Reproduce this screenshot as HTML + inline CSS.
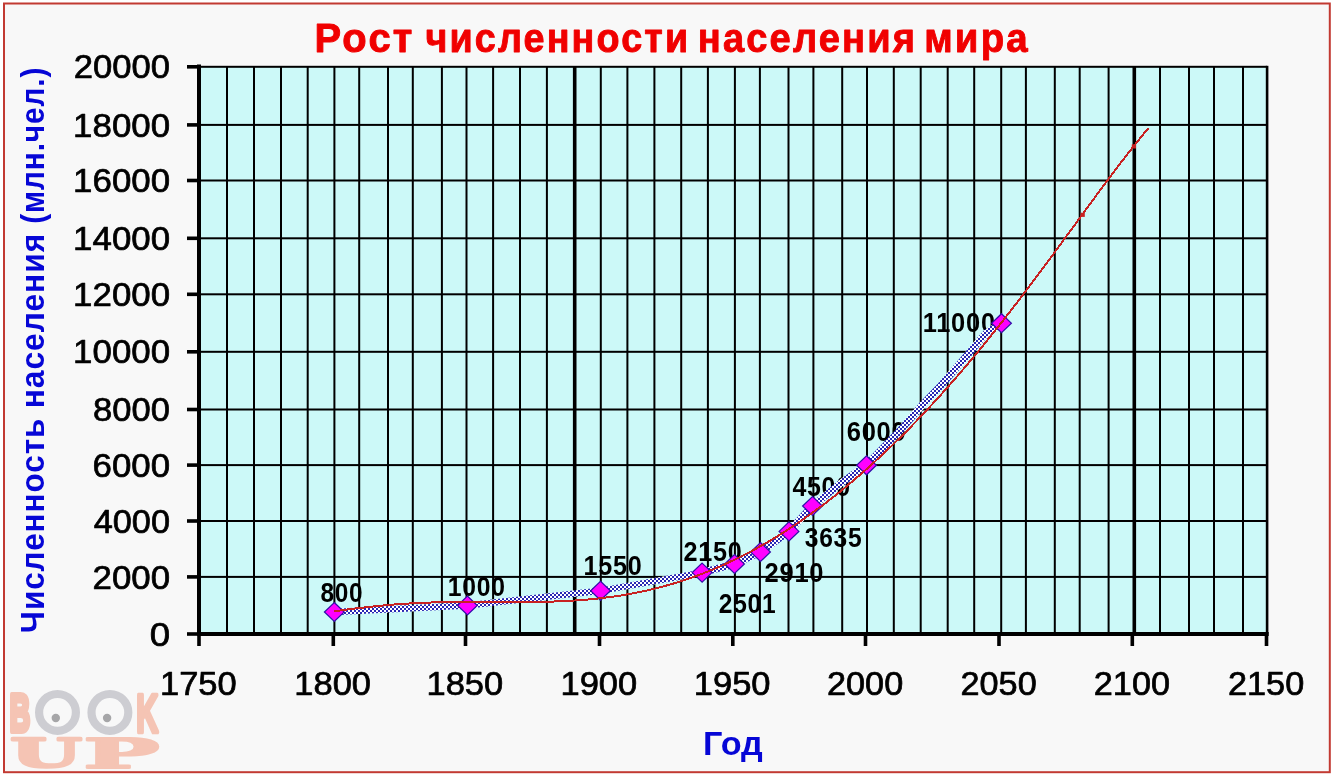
<!DOCTYPE html>
<html><head><meta charset="utf-8"><title>Рост численности населения мира</title>
<style>
html,body{margin:0;padding:0;background:#fff;width:1335px;height:779px;overflow:hidden}
svg{display:block}
text{font-family:'Liberation Sans', Arial, sans-serif;}
</style></head><body>
<svg width="1335" height="779" viewBox="0 0 1335 779">
<defs>
<pattern id="chk" width="4" height="4" patternUnits="userSpaceOnUse">
<rect width="4" height="4" fill="#ffffff"/><rect width="2" height="2" fill="#2828b4"/><rect x="2" y="2" width="2" height="2" fill="#2828b4"/>
</pattern>
</defs>
<rect x="4" y="3.5" width="1325.8" height="768.7" fill="#f8f8f8" stroke="#c23a32" stroke-width="2"/>
<rect x="199" y="66.8" width="1068" height="567.2" fill="#ccf9f8"/>
<g fill="#000">
<rect x="226.00" y="66.8" width="2" height="567.2"/>
<rect x="253.00" y="66.8" width="2" height="567.2"/>
<rect x="280.00" y="66.8" width="2" height="567.2"/>
<rect x="306.70" y="66.8" width="2" height="567.2"/>
<rect x="333.40" y="66.8" width="2" height="567.2"/>
<rect x="358.20" y="66.8" width="2" height="567.2"/>
<rect x="387.00" y="66.8" width="2" height="567.2"/>
<rect x="411.80" y="66.8" width="2" height="567.2"/>
<rect x="440.90" y="66.8" width="2" height="567.2"/>
<rect x="465.50" y="66.8" width="2" height="567.2"/>
<rect x="492.10" y="66.8" width="2" height="567.2"/>
<rect x="519.00" y="66.8" width="2" height="567.2"/>
<rect x="545.90" y="66.8" width="2" height="567.2"/>
<rect x="572.90" y="66.8" width="3.6" height="567.2"/>
<rect x="599.80" y="66.8" width="2" height="567.2"/>
<rect x="626.40" y="66.8" width="2" height="567.2"/>
<rect x="653.40" y="66.8" width="2" height="567.2"/>
<rect x="680.20" y="66.8" width="2" height="567.2"/>
<rect x="706.90" y="66.8" width="2" height="567.2"/>
<rect x="733.90" y="66.8" width="2" height="567.2"/>
<rect x="758.90" y="66.8" width="2" height="567.2"/>
<rect x="787.50" y="66.8" width="2" height="567.2"/>
<rect x="812.40" y="66.8" width="2" height="567.2"/>
<rect x="841.20" y="66.8" width="2" height="567.2"/>
<rect x="866.00" y="66.8" width="2" height="567.2"/>
<rect x="892.80" y="66.8" width="2" height="567.2"/>
<rect x="919.70" y="66.8" width="2" height="567.2"/>
<rect x="946.70" y="66.8" width="2" height="567.2"/>
<rect x="973.20" y="66.8" width="2" height="567.2"/>
<rect x="1000.20" y="66.8" width="2" height="567.2"/>
<rect x="1024.90" y="66.8" width="2" height="567.2"/>
<rect x="1053.80" y="66.8" width="2" height="567.2"/>
<rect x="1078.70" y="66.8" width="2" height="567.2"/>
<rect x="1107.60" y="66.8" width="2" height="567.2"/>
<rect x="1132.50" y="66.8" width="3.6" height="567.2"/>
<rect x="1159.00" y="66.8" width="2" height="567.2"/>
<rect x="1188.00" y="66.8" width="2" height="567.2"/>
<rect x="1213.00" y="66.8" width="2" height="567.2"/>
<rect x="1242.00" y="66.8" width="2" height="567.2"/>
<rect x="199" y="65.80" width="1068" height="2"/>
<rect x="199" y="123.90" width="1068" height="2"/>
<rect x="199" y="179.50" width="1068" height="2"/>
<rect x="199" y="237.30" width="1068" height="2"/>
<rect x="199" y="293.30" width="1068" height="2"/>
<rect x="199" y="350.80" width="1068" height="2"/>
<rect x="199" y="408.50" width="1068" height="2"/>
<rect x="199" y="464.10" width="1068" height="2"/>
<rect x="199" y="520.00" width="1068" height="2"/>
<rect x="199" y="575.90" width="1068" height="2"/>
<rect x="197" y="64.5" width="4" height="571.5"/>
<rect x="197" y="632" width="1071.7" height="4"/>
<rect x="1265.8" y="65.8" width="2.6" height="568.2"/>
<rect x="187" y="65.00" width="11" height="3.6"/>
<rect x="187" y="123.10" width="11" height="3.6"/>
<rect x="187" y="178.70" width="11" height="3.6"/>
<rect x="187" y="236.50" width="11" height="3.6"/>
<rect x="187" y="292.50" width="11" height="3.6"/>
<rect x="187" y="350.00" width="11" height="3.6"/>
<rect x="187" y="407.70" width="11" height="3.6"/>
<rect x="187" y="463.30" width="11" height="3.6"/>
<rect x="187" y="519.20" width="11" height="3.6"/>
<rect x="187" y="575.10" width="11" height="3.6"/>
<rect x="187" y="632.20" width="11" height="3.6"/>
<rect x="197.20" y="634" width="3.6" height="12"/>
<rect x="331.50" y="634" width="3.6" height="12"/>
<rect x="463.70" y="634" width="3.6" height="12"/>
<rect x="597.70" y="634" width="3.6" height="12"/>
<rect x="731.00" y="634" width="3.6" height="12"/>
<rect x="863.70" y="634" width="3.6" height="12"/>
<rect x="997.20" y="634" width="3.6" height="12"/>
<rect x="1130.50" y="634" width="3.6" height="12"/>
<rect x="1264.70" y="634" width="3.6" height="12"/>
</g>
<g>
<text transform="translate(73.68 78.40) scale(1.0347 1.000)" font-size="33.50" font-weight="normal" fill="#000" stroke="#000" stroke-width="0.7" stroke-linejoin="round">20000</text>
<text transform="translate(73.12 136.50) scale(1.0407 1.000)" font-size="33.50" font-weight="normal" fill="#000" stroke="#000" stroke-width="0.7" stroke-linejoin="round">18000</text>
<text transform="translate(73.12 192.10) scale(1.0407 1.000)" font-size="33.50" font-weight="normal" fill="#000" stroke="#000" stroke-width="0.7" stroke-linejoin="round">16000</text>
<text transform="translate(73.12 249.90) scale(1.0407 1.000)" font-size="33.50" font-weight="normal" fill="#000" stroke="#000" stroke-width="0.7" stroke-linejoin="round">14000</text>
<text transform="translate(73.12 305.90) scale(1.0407 1.000)" font-size="33.50" font-weight="normal" fill="#000" stroke="#000" stroke-width="0.7" stroke-linejoin="round">12000</text>
<text transform="translate(73.12 363.40) scale(1.0407 1.000)" font-size="33.50" font-weight="normal" fill="#000" stroke="#000" stroke-width="0.7" stroke-linejoin="round">10000</text>
<text transform="translate(93.12 421.10) scale(1.0324 1.000)" font-size="33.50" font-weight="normal" fill="#000" stroke="#000" stroke-width="0.7" stroke-linejoin="round">8000</text>
<text transform="translate(92.57 476.70) scale(1.0399 1.000)" font-size="33.50" font-weight="normal" fill="#000" stroke="#000" stroke-width="0.7" stroke-linejoin="round">6000</text>
<text transform="translate(93.66 532.60) scale(1.0251 1.000)" font-size="33.50" font-weight="normal" fill="#000" stroke="#000" stroke-width="0.7" stroke-linejoin="round">4000</text>
<text transform="translate(92.57 588.50) scale(1.0399 1.000)" font-size="33.50" font-weight="normal" fill="#000" stroke="#000" stroke-width="0.7" stroke-linejoin="round">2000</text>
<text transform="translate(149.76 645.60) scale(1.0925 1.000)" font-size="33.50" font-weight="normal" fill="#000" stroke="#000" stroke-width="0.7" stroke-linejoin="round">0</text>
<text transform="translate(159.94 695.20) scale(1.0496 1.000)" font-size="32.90" font-weight="normal" fill="#000" stroke="#000" stroke-width="0.7" stroke-linejoin="round">1750</text>
<text transform="translate(294.24 695.20) scale(1.0496 1.000)" font-size="32.90" font-weight="normal" fill="#000" stroke="#000" stroke-width="0.7" stroke-linejoin="round">1800</text>
<text transform="translate(426.44 695.20) scale(1.0496 1.000)" font-size="32.90" font-weight="normal" fill="#000" stroke="#000" stroke-width="0.7" stroke-linejoin="round">1850</text>
<text transform="translate(560.44 695.20) scale(1.0496 1.000)" font-size="32.90" font-weight="normal" fill="#000" stroke="#000" stroke-width="0.7" stroke-linejoin="round">1900</text>
<text transform="translate(693.74 695.20) scale(1.0496 1.000)" font-size="32.90" font-weight="normal" fill="#000" stroke="#000" stroke-width="0.7" stroke-linejoin="round">1950</text>
<text transform="translate(826.99 695.20) scale(1.0420 1.000)" font-size="32.90" font-weight="normal" fill="#000" stroke="#000" stroke-width="0.7" stroke-linejoin="round">2000</text>
<text transform="translate(960.49 695.20) scale(1.0420 1.000)" font-size="32.90" font-weight="normal" fill="#000" stroke="#000" stroke-width="0.7" stroke-linejoin="round">2050</text>
<text transform="translate(1093.79 695.20) scale(1.0420 1.000)" font-size="32.90" font-weight="normal" fill="#000" stroke="#000" stroke-width="0.7" stroke-linejoin="round">2100</text>
<text transform="translate(1227.99 695.20) scale(1.0420 1.000)" font-size="32.90" font-weight="normal" fill="#000" stroke="#000" stroke-width="0.7" stroke-linejoin="round">2150</text>
<text transform="translate(314.40 51.80) scale(0.9744 1.000)" font-size="41.00" font-weight="bold" fill="#f00000" letter-spacing="2.3" stroke="#f00000" stroke-width="0.9" stroke-linejoin="round">Рост</text>
<text transform="translate(425.42 51.80) scale(0.9215 1.000)" font-size="41.00" font-weight="bold" fill="#f00000" letter-spacing="2.3" stroke="#f00000" stroke-width="0.9" stroke-linejoin="round">численности</text>
<text transform="translate(697.82 51.80) scale(0.9290 1.000)" font-size="41.00" font-weight="bold" fill="#f00000" letter-spacing="2.3" stroke="#f00000" stroke-width="0.9" stroke-linejoin="round">населения</text>
<text transform="translate(924.19 51.80) scale(0.9391 1.000)" font-size="41.00" font-weight="bold" fill="#f00000" letter-spacing="2.3" stroke="#f00000" stroke-width="0.9" stroke-linejoin="round">мира</text>
<text transform="translate(702.96 755.30) scale(1.0066 1.000)" font-size="34.00" font-weight="bold" fill="#0606d6">Год</text>
<text transform="translate(44.00 633.18) rotate(-90) scale(0.9271 1.000)" font-size="34.00" font-weight="bold" fill="#0606d6" letter-spacing="1.0">Численность</text>
<text transform="translate(44.00 408.29) rotate(-90) scale(0.9360 1.000)" font-size="34.00" font-weight="bold" fill="#0606d6" letter-spacing="1.0">населения</text>
<text transform="translate(44.00 223.80) rotate(-90) scale(0.8776 1.000)" font-size="34.00" font-weight="bold" fill="#0606d6" letter-spacing="1.0">(млн.чел.)</text>
</g>
<g>
<text transform="translate(320.54 602.10) scale(0.8846 1.000)" font-size="27.60" font-weight="bold" fill="#000" letter-spacing="0.8">800</text>
<text transform="translate(447.75 595.90) scale(0.8957 1.000)" font-size="27.60" font-weight="bold" fill="#000" letter-spacing="0.8">1000</text>
<text transform="translate(583.53 575.20) scale(0.9121 1.000)" font-size="27.60" font-weight="bold" fill="#000" letter-spacing="0.8">1550</text>
<text transform="translate(683.61 560.70) scale(0.9140 1.000)" font-size="27.60" font-weight="bold" fill="#000" letter-spacing="0.8">2150</text>
<text transform="translate(718.83 612.60) scale(0.8900 1.000)" font-size="27.60" font-weight="bold" fill="#000" letter-spacing="0.8">2501</text>
<text transform="translate(764.50 582.00) scale(0.9253 1.000)" font-size="27.60" font-weight="bold" fill="#000" letter-spacing="0.8">2910</text>
<text transform="translate(804.82 546.50) scale(0.8918 1.000)" font-size="27.60" font-weight="bold" fill="#000" letter-spacing="0.8">3635</text>
<text transform="translate(792.40 495.50) scale(0.9046 1.000)" font-size="27.60" font-weight="bold" fill="#000" letter-spacing="0.8">4500</text>
<text transform="translate(846.70 441.40) scale(0.9253 1.000)" font-size="27.60" font-weight="bold" fill="#000" letter-spacing="0.8">6000</text>
<text transform="translate(922.71 331.90) scale(0.9235 1.000)" font-size="27.60" font-weight="bold" fill="#000" letter-spacing="0.8">11000</text>
</g>
<polyline points="334.3,612 467.4,605.5 600.5,590.8 702.1,572.6" fill="none" stroke="url(#chk)" stroke-width="6.4" stroke-linejoin="round"/>
<polyline points="702.1,572.6 734.5,564 760.5,552 789,531.4 812.5,506 841.8,482.5 866.5,465.3 900,430.6 921.6,405.8 941.2,385.2 969.9,352.2 980.6,339.2 987.3,332.2 1001.5,323.2" fill="none" stroke="url(#chk)" stroke-width="7.2" stroke-linejoin="round"/>
<g fill="#ff00ff" stroke="#3010a8" stroke-width="1.2">
<polygon points="334.3,602.5 344.2,612 334.3,621.5 324.40000000000003,612"/>
<polygon points="467.4,596.0 477.29999999999995,605.5 467.4,615.0 457.5,605.5"/>
<polygon points="600.5,581.3 610.4,590.8 600.5,600.3 590.6,590.8"/>
<polygon points="702.1,563.1 712.0,572.6 702.1,582.1 692.2,572.6"/>
<polygon points="734.5,554.5 744.4,564 734.5,573.5 724.6,564"/>
<polygon points="760.5,542.5 770.4,552 760.5,561.5 750.6,552"/>
<polygon points="789,521.9 798.9,531.4 789,540.9 779.1,531.4"/>
<polygon points="812.5,496.5 822.4,506 812.5,515.5 802.6,506"/>
<polygon points="866.5,455.8 876.4,465.3 866.5,474.8 856.6,465.3"/>
<polygon points="1001.5,313.7 1011.4,323.2 1001.5,332.7 991.6,323.2"/>
</g>
<polyline points="334.0,611.2 339.1,610.6 344.2,609.9 349.4,609.2 354.5,608.6 359.6,608.0 364.7,607.4 369.9,606.8 375.0,606.3 380.1,605.8 385.2,605.3 390.3,604.8 395.5,604.4 400.6,604.1 405.7,603.7 410.8,603.4 416.0,603.1 421.1,602.9 426.2,602.7 431.3,602.5 436.4,602.3 441.6,602.2 446.7,602.1 451.8,602.0 456.9,602.0 462.1,602.0 467.2,601.9 472.3,601.9 477.4,601.9 482.5,602.0 487.7,602.0 492.8,602.0 497.9,602.0 503.0,602.1 508.1,602.1 513.3,602.1 518.4,602.1 523.5,602.1 528.6,602.0 533.8,602.0 538.9,601.9 544.0,601.8 549.1,601.7 554.2,601.5 559.4,601.3 564.5,601.1 569.6,600.8 574.7,600.5 579.9,600.2 585.0,599.8 590.1,599.3 595.2,598.8 600.3,598.3 605.5,597.6 610.6,597.0 615.7,596.3 620.8,595.5 626.0,594.6 631.1,593.7 636.2,592.7 641.3,591.7 646.4,590.6 651.6,589.4 656.7,588.1 661.8,586.8 666.9,585.4 672.1,583.9 677.2,582.4 682.3,580.8 687.4,579.1 692.5,577.3 697.7,575.4 702.8,573.5 707.9,571.5 713.0,569.4 718.2,567.2 723.3,565.0 728.4,562.6 733.5,560.2 738.6,557.7 743.8,555.2 748.9,552.5 754.0,549.8 759.1,546.9 764.2,544.0 769.4,541.1 774.5,538.0 779.6,534.8 784.7,531.6 789.9,528.3 795.0,524.9 800.1,521.4 805.2,517.9 810.3,514.3 815.5,510.5 820.6,506.7 825.7,502.9 830.8,498.9 836.0,494.9 841.1,490.8 846.2,486.6 851.3,482.3 856.4,477.9 861.6,473.5 866.7,469.0 871.8,464.4 876.9,459.7 882.1,454.9 887.2,450.1 892.3,445.2 897.4,440.2 902.5,435.1 907.7,430.0 912.8,424.8 917.9,419.5 923.0,414.1 928.2,408.6 933.3,403.1 938.4,397.5 943.5,391.8 948.6,386.1 953.8,380.2 958.9,374.3 964.0,368.3 969.1,362.3 974.3,356.2 979.4,350.0 984.5,343.7 989.6,337.4 994.7,331.0 999.9,324.6 1005.0,318.1 1010.1,311.5 1015.2,304.9 1020.3,298.2 1025.5,291.5 1030.6,284.7 1035.7,277.9 1040.8,271.0 1046.0,264.1 1051.1,257.2 1056.2,250.2 1061.3,243.2 1066.4,236.2 1071.6,229.2 1076.7,222.2 1081.8,215.2 1086.9,208.2 1092.1,201.2 1097.2,194.2 1102.3,187.3 1107.4,180.4 1112.5,173.6 1117.7,166.8 1122.8,160.1 1127.9,153.5 1133.0,147.0 1138.2,140.6 1143.3,134.3 1148.4,128.2" fill="none" stroke="#c82222" stroke-width="2" shape-rendering="crispEdges"/>
<g fill="#c82222"><rect x="1080.6" y="212.7" width="4.2" height="4.2"/><rect x="1131.8" y="144.3" width="4.2" height="4.2"/></g>
<g>
<text transform="translate(9.76 731.40) scale(0.5386 1.000)" font-size="52.20" font-weight="bold" fill="#f5c4b4" stroke="#f5c4b4" stroke-width="6" stroke-linejoin="round">B</text>
<text transform="translate(136.16 732.15) scale(0.5604 1.000)" font-size="54.33" font-weight="bold" fill="#f5c4b4" stroke="#f5c4b4" stroke-width="4.5" stroke-linejoin="round">K</text>
<text transform="translate(10.56 766.64) scale(2.0888 1.000)" font-size="39.07" font-weight="bold" fill="#f5c4b4" style="font-family:'DejaVu Serif', 'Liberation Serif', serif" stroke="#f5c4b4" stroke-width="2.5" stroke-linejoin="round">U</text>
<text transform="translate(83.46 767.50) scale(2.4851 1.000)" font-size="40.58" font-weight="bold" fill="#f5c4b4" style="font-family:'DejaVu Serif', 'Liberation Serif', serif" stroke="#f5c4b4" stroke-width="2.0" stroke-linejoin="round">P</text>
<circle cx="57.5" cy="712.4" r="18.4" fill="none" stroke="#cdcdd2" stroke-width="8.2"/>
<circle cx="55.8" cy="718" r="4.2" fill="#a6a6a8"/>
<circle cx="109.9" cy="712.4" r="18.4" fill="none" stroke="#cdcdd2" stroke-width="8.2"/>
<circle cx="107.1" cy="718" r="4.2" fill="#a6a6a8"/>
</g>
</svg>
</body></html>
